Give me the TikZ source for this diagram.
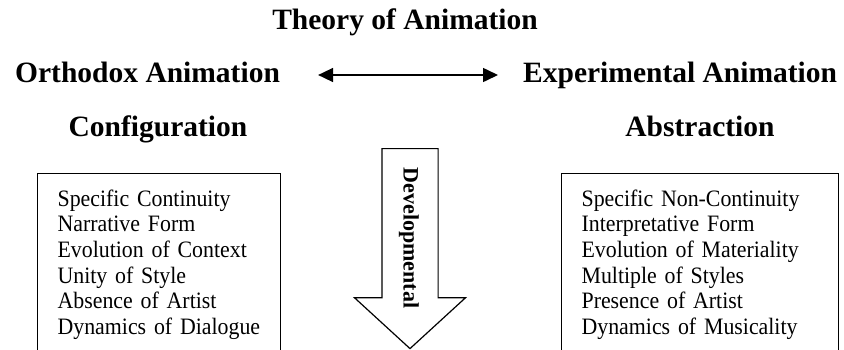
\documentclass[tikz,border=0pt]{standalone}
\usepackage{fontspec}
\setmainfont{Liberation Serif}
\newfontfamily\listfont[FakeStretch=0.93]{Liberation Serif}
\usetikzlibrary{arrows.meta,positioning,shapes.arrows}

\tikzset{heading/.style={font=\bfseries\fontsize{29.5}{30}\selectfont,inner sep=0pt,text height=20pt,text depth=6pt},
listbox/.style={draw,line width=1.2pt,align=left,anchor=north west,inner xsep=20pt,inner ysep=16pt,font=\listfont\fontsize{23.5}{25.7}\selectfont}}

\begin{document}
\begin{tikzpicture}[x=1pt,y=-1pt,>={Triangle[length=15pt,width=14pt]}]
\useasboundingbox (0,0) rectangle (844,349);
\clip (0,0) rectangle (844,349);

\node[heading,anchor=base]   (theory) at (405,29)   {Theory of Animation};
\node[heading,anchor=base west]   (orth) at (15,82)   {Orthodox Animation};
\node[heading,anchor=base west]   (exp) at (523,82)   {Experimental Animation};
\node[heading,anchor=base]   (conf) at (158,136)   {Configuration};
\node[heading,anchor=base]   (abst) at (700,136)   {Abstraction};

\node[listbox,text width=203pt]   (conflist) at (37,173)   {Specific Continuity\\ Narrative Form\\ Evolution of Context\\ Unity of Style\\ Absence of Artist\\ Dynamics of Dialogue};
\node[listbox,text width=237pt]   (abstlist) at (561,173)   {Specific Non-Continuity\\ Interpretative Form\\ Evolution of Materiality\\ Multiple of Styles\\ Presence of Artist\\ Dynamics of Musicality};

\node[single arrow,draw,line width=1.2pt,rotate=-90,anchor=tail,minimum height=200pt,inner xsep=0pt,inner ysep=27.5pt,single arrow head extend=27.5pt,single arrow tip angle=95]   (devarrow) at (410,148)   {};
\node[font=\bfseries\fontsize{22}{22}\selectfont,rotate=-90,inner sep=0pt]   (devtext) at (409,238)   {Developmental};

\draw[<->,line width=1.6pt,shorten <=38pt,shorten >=25pt] (orth.east) -- (exp.west);

\end{tikzpicture}
\end{document}
